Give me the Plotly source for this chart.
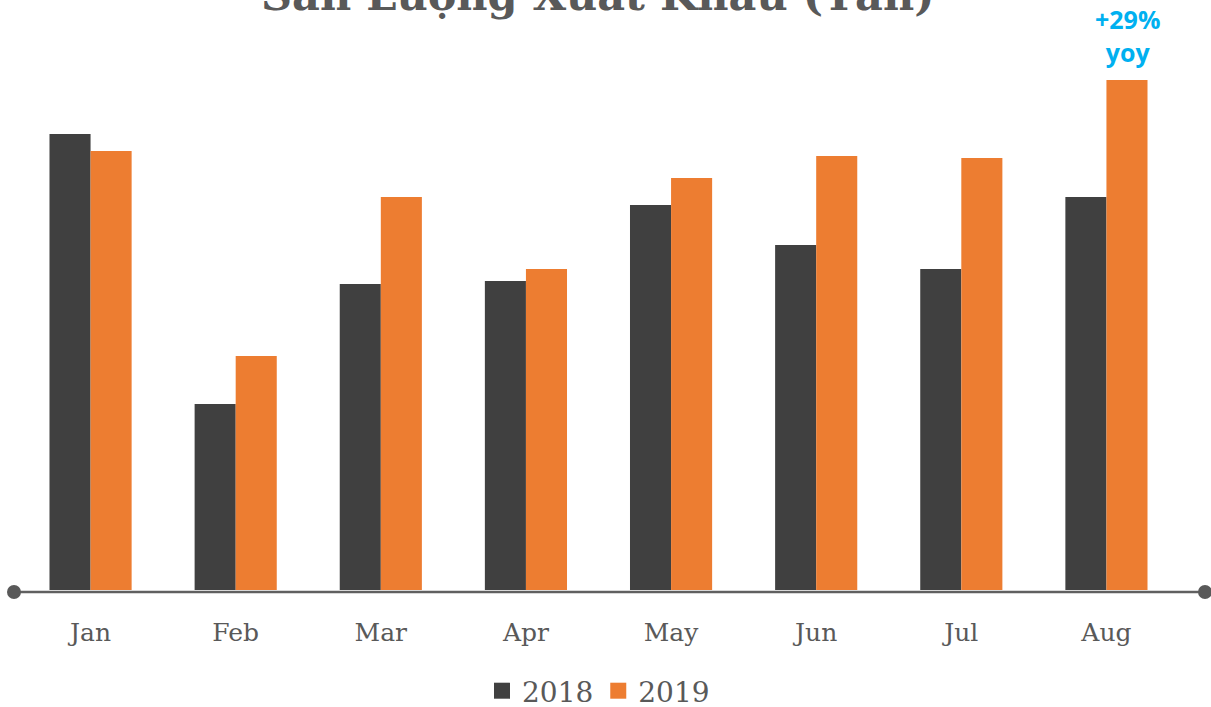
import plotly.graph_objects as go

months = ["Jan", "Feb", "Mar", "Apr", "May", "Jun", "Jul", "Aug"]
v2018 = [456, 186, 306, 309, 385, 345, 321, 393]
v2019 = [439, 234, 393, 321, 412, 434, 432, 510]
series_names = ["2018", "2019"]
title_text = "Sản Lượng Xuất Khẩu (Tấn)"
yoy_text = "+29%<br>yoy"

W, H = 1211, 707
ml, mr, mt, mb = 18, 32, 50, 117
ph = H - mt - mb
colors = ["#404040", "#ED7D31"]

def py(p):
    return (H - mb - p) / ph

def px(p):
    return (p - ml) / (W - ml - mr)

fig = go.Figure()
for name, vals, c in zip(series_names, [v2018, v2019], colors):
    fig.add_trace(go.Bar(name=name, x=months, y=vals, marker=dict(color=c, line=dict(width=0)),
                         showlegend=False, legendgroup=name))
for name, c in zip(series_names, colors):
    fig.add_trace(go.Scatter(name=name, x=[None], y=[None], mode="markers", legendgroup=name,
                             marker=dict(symbol="square", size=17, color=c)))

serif = "DejaVu Serif"
fig.update_layout(
    width=W, height=H,
    margin=dict(l=ml, r=mr, t=mt, b=mb, autoexpand=False),
    paper_bgcolor="white", plot_bgcolor="white",
    barmode="group", bargap=0.434, bargroupgap=0,
    showlegend=True,
    legend=dict(orientation="h", x=0.5, xanchor="center", y=py(691), yanchor="middle",
                font=dict(family=serif, size=28, color="#595959"), itemwidth=30,
                traceorder="normal", itemsizing="trace"),
    xaxis=dict(showgrid=False, showline=False, zeroline=False, ticks="",
               tickfont=dict(family=serif, size=25, color="#595959"),
               ticklabelstandoff=25),
    yaxis=dict(visible=False, range=[0, ph], fixedrange=True),
)

# axis line with end dots
fig.add_shape(type="line", xref="paper", yref="paper", x0=px(14), x1=px(1205), y0=py(592), y1=py(592),
              line=dict(color="#606060", width=2.5))
r = 7
for cx in (14, 1205):
    fig.add_shape(type="circle", xref="paper", yref="paper",
                  x0=px(cx - r), x1=px(cx + r), y0=py(592 + r), y1=py(592 - r),
                  fillcolor="#595959", line=dict(width=0))

fig.add_annotation(text="<b>" + title_text + "</b>", xref="paper", yref="paper",
                   x=px(598), y=py(22), xanchor="center", yanchor="bottom", showarrow=False,
                   font=dict(family=serif, size=43, color="#595959"))

fig.add_annotation(text="<b>" + yoy_text + "</b>", xref="x", yref="y",
                   x=months[-1], y=v2019[-1], xshift=21, yshift=9,
                   xanchor="center", yanchor="bottom", showarrow=False,
                   font=dict(family="Open Sans", size=25, color="#00B0F0"))

fig.write_html("out.html", config={"displayModeBar": False},
               post_script="document.body.style.margin='0';document.body.style.overflow='hidden';")
